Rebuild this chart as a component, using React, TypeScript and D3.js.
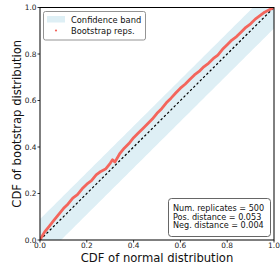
import React from "react";
import * as d3 from "d3";

const normCdf = [0, 0.01, 0.02, 0.04, 0.06, 0.08, 0.10, 0.12, 0.14, 0.16, 0.18, 0.20, 0.22, 0.24, 0.26, 0.28, 0.30, 0.31, 0.32, 0.34, 0.36, 0.38, 0.40, 0.42, 0.44, 0.46, 0.48, 0.50, 0.52, 0.54, 0.56, 0.58, 0.60, 0.62, 0.64, 0.66, 0.68, 0.70, 0.72, 0.74, 0.76, 0.78, 0.80, 0.82, 0.84, 0.86, 0.88, 0.90, 0.92, 0.94, 0.96, 0.98, 1.0];
const bootCdf = [0, 0.018, 0.035, 0.06, 0.085, 0.11, 0.135, 0.155, 0.18, 0.195, 0.22, 0.24, 0.255, 0.28, 0.295, 0.305, 0.33, 0.345, 0.335, 0.37, 0.395, 0.415, 0.44, 0.46, 0.48, 0.50, 0.52, 0.545, 0.565, 0.59, 0.61, 0.632, 0.653, 0.67, 0.69, 0.71, 0.725, 0.745, 0.76, 0.78, 0.795, 0.82, 0.84, 0.86, 0.875, 0.895, 0.915, 0.93, 0.95, 0.965, 0.98, 0.99, 1.0];
const bandHalfWidth = 0.09;
const ticks = [0, 0.2, 0.4, 0.6, 0.8, 1.0];
const legendLabels = ["Confidence band", "Bootstrap reps."];
const statsLines = ["Num. replicates = 500", "Pos. distance = 0.053", "Neg. distance = 0.004"];

export default function App() {
  const W = 280, H = 271;
  const L = 40, R = 274, T = 7.5, B = 240;
  const x = d3.scaleLinear().domain([0, 1]).range([L, R]);
  const y = d3.scaleLinear().domain([0, 1]).range([B, T]);
  const font = "DejaVu Sans, sans-serif";

  const grid = d3.range(0, 1.0001, 0.01);
  const upper = grid.map((v) => [v, Math.min(1, v + bandHalfWidth)] as [number, number]);
  const lower = grid.map((v) => [v, Math.max(0, v - bandHalfWidth)] as [number, number]);
  const area = d3
    .area<[number, number]>()
    .x((d) => x(d[0]))
    .y0((d, i) => y(lower[i][1]))
    .y1((d) => y(d[1]));
  const bandPath = area(upper) || "";

  const pts = normCdf.map((v, i) => [v, bootCdf[i]] as [number, number]);
  const line = d3
    .line<[number, number]>()
    .x((d) => x(d[0]))
    .y((d) => y(d[1]));

  const red = "#f3655c";
  const band = "#deeff5";

  return (
    <svg width={W} height={H} style={{ display: "block", position: "absolute", left: 0, top: 0 }}>
      <rect x={0} y={0} width={W} height={H} fill="white" />
      <defs>
        <clipPath id="plotclip">
          <rect x={L} y={T} width={R - L} height={B - T} />
        </clipPath>
      </defs>
      <g clipPath="url(#plotclip)">
        <path d={bandPath} fill={band} />
        <line x1={x(0)} y1={y(0)} x2={x(1)} y2={y(1)} stroke="#000" strokeWidth={1.2} strokeDasharray="2.4,2.2" />
        <path d={line(pts) || ""} fill="none" stroke={red} strokeWidth={2.8} strokeLinejoin="round" strokeLinecap="round" />
      </g>
      <rect x={L} y={T} width={R - L} height={B - T} fill="none" stroke="#000" strokeWidth={1} />
      {ticks.map((t) => (
        <g key={"x" + t}>
          <line x1={x(t)} x2={x(t)} y1={B} y2={B + 2.5} stroke="#000" strokeWidth={0.8} />
          <text x={x(t)} y={B + 7.6} fontSize={7.4} fontFamily={font} textAnchor="middle" fill="#222">
            {t.toFixed(1)}
          </text>
        </g>
      ))}
      {ticks.map((t) => (
        <g key={"y" + t}>
          <line x1={L - 2.5} x2={L} y1={y(t)} y2={y(t)} stroke="#000" strokeWidth={0.8} />
          <text x={L - 3.5} y={y(t) + 2.7} fontSize={7.4} fontFamily={font} textAnchor="end" fill="#222">
            {t.toFixed(1)}
          </text>
        </g>
      ))}
      <text x={(L + R) / 2} y={262} fontSize={11.6} fontFamily={font} textAnchor="middle" fill="#111">
        CDF of normal distribution
      </text>
      <text
        transform={`translate(${21.3},${(T + B) / 2}) rotate(-90)`}
        fontSize={11.6}
        fontFamily={font}
        textAnchor="middle"
        fill="#111"
      >
        CDF of bootstrap distribution
      </text>
      <rect x={43.5} y={11.5} width={102} height={28.5} rx={2} fill="white" fillOpacity={0.85} stroke="#888" strokeWidth={0.9} />
      <rect x={47} y={16} width={18} height={6.5} fill={band} />
      <text x={71} y={22.5} fontSize={8.3} fontFamily={font} fill="#111">
        {legendLabels[0]}
      </text>
      <circle cx={56} cy={30.5} r={1.1} fill={red} />
      <text x={71} y={33.5} fontSize={8.3} fontFamily={font} fill="#111">
        {legendLabels[1]}
      </text>
      <rect x={168.5} y={198.5} width={102} height={38} rx={3} fill="white" stroke="#555" strokeWidth={0.9} />
      {statsLines.map((s, i) => (
        <text key={s} x={173} y={211 + i * 8.6} fontSize={8.1} fontFamily={font} fill="#111">
          {s}
        </text>
      ))}
    </svg>
  );
}
